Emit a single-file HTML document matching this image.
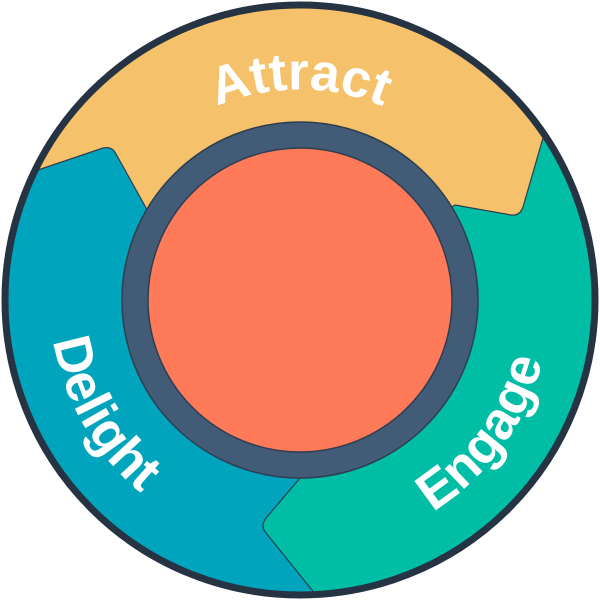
<!DOCTYPE html>
<html><head><style>html,body{margin:0;padding:0;background:#fff;}svg{display:block}</style></head>
<body>
<svg width="600" height="600" viewBox="0 0 600 600" xmlns="http://www.w3.org/2000/svg">
<defs>
<clipPath id="c"><circle cx="300" cy="300" r="295"/></clipPath>
<path id="pa" d="M101.3,227.6 A212,212 0 0 1 498.7,227.6"/>
<path id="pd" d="M65.1,214.5 A250,250 0 0 0 256.6,546.2"/>
<path id="pe" d="M317.4,549.4 A250,250 0 0 0 542.6,239.5"/>
</defs>
<g clip-path="url(#c)">
<rect width="600" height="600" fill="#00bda5"/>
<path d="M0,0 L600,0 L600,135 L543,138 L523,207 Q520,216 511,215 L455,205 L300,300 L0,180 Z" fill="#f5c26b" stroke="#2d3e50" stroke-width="1.2"/>
<path d="M0,180 L38,170 L103,148 Q112,146 116,154 L150,215 L300,300 L300,478 L266,518 Q260,526 266,533 L320,600 L0,600 Z" fill="#00a4bd" stroke="#2d3e50" stroke-width="1.2"/>
</g>
<circle cx="300" cy="300" r="295" fill="none" stroke="#253342" stroke-width="7"/>
<circle cx="300" cy="300" r="178" fill="#425b76" stroke="#2d3e50" stroke-width="1.5"/>
<circle cx="300" cy="300" r="152" fill="#ff7a59" stroke="#2d3e50" stroke-width="1.5"/>
<g font-family="'Liberation Sans', sans-serif" font-weight="bold" font-size="53" fill="#fff">
<text text-anchor="middle"><textPath href="#pa" startOffset="50%">Attract</textPath></text>
<text text-anchor="middle"><textPath href="#pd" startOffset="50%">Delight</textPath></text>
<text text-anchor="middle"><textPath href="#pe" startOffset="50%">Engage</textPath></text>
</g>
</svg>
</body></html>
